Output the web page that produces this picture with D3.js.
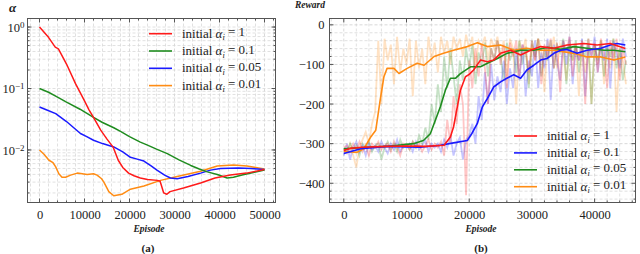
<!DOCTYPE html>
<html><head><meta charset="utf-8">
<script src="https://cdn.jsdelivr.net/npm/d3@7"></script>
<style>
body{margin:0;background:#fff}
svg{display:block}
text{font-family:"Liberation Serif","Times New Roman",serif;fill:#222}
</style>
</head><body>
<svg id="c" width="640" height="254"></svg>
<script>
// ---------- DATA ----------
const seriesNames = ["1", "0.1", "0.05", "0.01"];
// Panel (a): alpha vs episode  [episode, alpha]
const alphaInit1 = [[0,1],[2000,0.68],[3500,0.47],[4200,0.44],[6000,0.25],[8000,0.12],[10000,0.063],[11000,0.045],[12000,0.034],[13600,0.021],[15000,0.015],[16400,0.011],[17500,0.0068],[18500,0.0052],[19800,0.0042],[21000,0.0038],[22400,0.0035],[24000,0.0033],[26200,0.0032],[26800,0.0031],[27600,0.0020],[28300,0.0019],[29000,0.0021],[32000,0.0024],[35800,0.0029],[39000,0.0035],[42400,0.0039],[46000,0.0042],[50000,0.0048]];
const alphaInit01 = [[0,0.1],[2000,0.087],[3900,0.073],[6000,0.06],[9000,0.046],[12000,0.034],[14000,0.028],[16500,0.023],[18000,0.02],[20000,0.0165],[22400,0.0134],[24000,0.012],[26000,0.0103],[28400,0.0087],[31000,0.0069],[33600,0.0056],[35500,0.0049],[37300,0.0044],[39500,0.004],[41700,0.0035],[43100,0.0036],[45000,0.0039],[47500,0.0043],[50000,0.0047]];
const alphaInit005 = [[0,0.05],[1500,0.045],[3600,0.039],[6000,0.029],[9100,0.0185],[10500,0.0165],[12000,0.0144],[14000,0.0127],[16500,0.0112],[18500,0.0093],[20200,0.0076],[21700,0.0071],[23200,0.0066],[24800,0.0055],[26100,0.0047],[27800,0.0039],[29100,0.0035],[30600,0.0034],[33000,0.0037],[35800,0.0042],[38000,0.0047],[40200,0.005],[44200,0.0051],[47000,0.005],[50000,0.0048]];
const alphaInit001 = [[0,0.01],[1000,0.0085],[2100,0.0068],[3000,0.0062],[3600,0.0053],[4300,0.0041],[5000,0.0036],[5800,0.0036],[6900,0.0039],[8400,0.0042],[10600,0.004],[12000,0.0041],[12800,0.0039],[13800,0.0034],[14300,0.003],[15000,0.0024],[15400,0.0021],[16500,0.0018],[18300,0.0019],[20200,0.0023],[23200,0.0026],[26900,0.0032],[30600,0.0037],[35800,0.0045],[39500,0.0055],[43100,0.0057],[46100,0.0055],[50000,0.0049]];
const alphaTicksX = [0,10000,20000,30000,40000,50000];
const alphaTicksY = [1,0.1,0.01];
const alphaExp = ["0","\u22121","\u22122"];

// Panel (b): reward vs episode, smoothed [episode, reward]
const rewSmooth1 = [[0,-317],[1000,-312],[3000,-309],[6800,-307],[10000,-306],[13000,-307],[16000,-304],[17000,-283],[17500,-258],[18100,-207],[18600,-165],[19400,-131],[20000,-125],[20700,-114],[21800,-89],[22900,-93],[23900,-89],[25000,-72],[26600,-64],[28200,-76],[29800,-64],[31400,-55],[33500,-59],[35600,-51],[38300,-47],[40400,-51],[42500,-47],[44900,-60]];
const rewSmooth01 = [[0,-325],[2700,-313],[6900,-307],[12200,-309],[15400,-304],[17500,-298],[19700,-292],[20400,-275],[21300,-249],[22100,-207],[22900,-186],[23900,-157],[25000,-144],[26000,-135],[27100,-126],[28200,-135],[29200,-114],[30300,-102],[31400,-89],[32400,-85],[33500,-72],[34600,-64],[35600,-62],[37200,-72],[38800,-64],[41000,-59],[42500,-51],[43600,-47],[44900,-51]];
const rewSmooth005 = [[0,-313],[4000,-309],[6800,-307],[11100,-300],[12700,-292],[13800,-275],[14600,-241],[15400,-207],[16200,-165],[17000,-135],[17800,-135],[18600,-123],[20200,-106],[21800,-106],[22900,-97],[24500,-85],[26000,-72],[28200,-64],[30300,-64],[32400,-57],[34600,-62],[36700,-55],[38800,-59],[41500,-64],[43100,-64],[44900,-68]];
const rewSmooth001 = [[0,-320],[2100,-322],[3200,-313],[4300,-283],[5100,-266],[5800,-190],[6400,-131],[6900,-110],[8000,-110],[8800,-123],[10100,-110],[11700,-97],[12800,-102],[14400,-80],[15900,-72],[17500,-64],[19700,-55],[21300,-45],[22900,-55],[25000,-51],[27100,-64],[29200,-59],[31400,-64],[33500,-64],[36700,-72],[38800,-81],[41000,-81],[43100,-89],[44900,-81]];
// raw (faded) rewards, one value every 500 episodes from 0 to 45000
const rawStep = 500;
const rewRaw1 = [-310,-305,-320,-300,-315,-295,-320,-305,-330,-300, -310,-295,-315,-305,-300,-320,-295,-310,-330,-300, -305,-315,-295,-310,-300,-320,-305,-290,-315,-300, -310,-295,-330,-240,-300,-180,-250,-150,-200,-430, -90,-160,-60,-130,-50,-110,-200,-60,-90,-40, -100,-50,-160,-45,-80,-40,-130,-50,-70,-120, -40,-90,-35,-150,-50,-80,-35,-110,-45,-170, -40,-70,-30,-130,-50,-90,-40,-200,-35,-80, -45,-120,-35,-70,-160,-40,-90,-35,-140,-60,-100];
const rewRaw01 = [-330,-300,-340,-310,-295,-320,-305,-330,-300,-315, -305,-320,-295,-310,-325,-300,-315,-290,-320,-305, -310,-300,-320,-295,-315,-305,-290,-320,-300,-310, -300,-320,-290,-310,-280,-330,-300,-285,-340,-290, -280,-250,-300,-180,-240,-120,-200,-100,-190,-130, -170,-90,-200,-110,-160,-60,-140,-50,-180,-90, -130,-40,-160,-70,-110,-35,-190,-50,-90,-140, -40,-100,-30,-150,-60,-90,-35,-180,-50,-80, -30,-120,-50,-90,-35,-160,-40,-70,-110,-35,-80];
const rewRaw005 = [-310,-320,-300,-315,-305,-330,-300,-310,-295,-320, -305,-300,-340,-310,-295,-315,-300,-320,-290,-310, -300,-315,-295,-310,-280,-300,-260,-290,-200,-250, -150,-220,-80,-160,-60,-130,-200,-90,-140,-60, -110,-50,-150,-70,-100,-45,-130,-60,-90,-40, -80,-140,-45,-90,-60,-120,-40,-100,-55,-160, -40,-80,-35,-130,-60,-90,-40,-110,-50,-70, -35,-150,-50,-90,-40,-120,-60,-80,-35,-200, -50,-90,-40,-130,-55,-80,-35,-110,-60,-140,-90];
const rewRaw001 = [-318,-325,-300,-330,-360,-310,-290,-270,-300,-250, -220,-40,-200,-35,-90,-50,-150,-30,-120,-60, -100,-35,-180,-40,-110,-60,-150,-30,-90,-45, -120,-30,-70,-40,-100,-30,-60,-35,-80,-25, -60,-30,-110,-40,-55,-30,-90,-35,-60,-30, -80,-40,-130,-35,-60,-200,-40,-70,-35,-150, -50,-90,-35,-60,-170,-40,-80,-30,-110,-50, -70,-140,-40,-90,-50,-180,-40,-120,-60,-200, -50,-100,-40,-150,-60,-110,-35,-220,-60,-90,-150];
const rewTicksX = [0,10000,20000,30000,40000];
const rewTicksY = [0,-100,-200,-300,-400];

const RED="#ff1a1a", GREEN="#1f8c1f", BLUE="#1a1aff", ORANGE="#ff8c14";
const colorsA = {"1":RED,"0.1":GREEN,"0.05":BLUE,"0.01":ORANGE};
const colorsB = {"1":RED,"0.1":BLUE,"0.05":GREEN,"0.01":ORANGE};

// ---------- DRAW ----------
const svg = d3.select("#c");
const gridCol = "#d9d9d9";

function frame(g, x0, x1, y0, y1){
  g.append("rect").attr("x",x0).attr("y",y0).attr("width",x1-x0).attr("height",y1-y0)
    .attr("fill","none").attr("stroke","#555").attr("stroke-width",1);
}
function edgeTicks(g, xs, x, yTop, yBot, len){
  g.append("g").selectAll("line").data(xs).join("line").attr("x1",d=>x(d)).attr("x2",d=>x(d)).attr("y1",yBot).attr("y2",yBot-len).attr("stroke","#555");
  g.append("g").selectAll("line").data(xs).join("line").attr("x1",d=>x(d)).attr("x2",d=>x(d)).attr("y1",yTop).attr("y2",yTop+len).attr("stroke","#555");
}
function edgeTicksY(g, ys, y, xL, xR, len){
  g.append("g").selectAll("line").data(ys).join("line").attr("y1",d=>y(d)).attr("y2",d=>y(d)).attr("x1",xL).attr("x2",xL+len).attr("stroke","#555");
  g.append("g").selectAll("line").data(ys).join("line").attr("y1",d=>y(d)).attr("y2",d=>y(d)).attr("x1",xR).attr("x2",xR-len).attr("stroke","#555");
}
function legend(g, x, y, order, dy, colors){
  order.forEach((k,i)=>{
    const yy = y + i*dy;
    g.append("line").attr("x1",x).attr("x2",x+23).attr("y1",yy).attr("y2",yy).attr("stroke",colors[k]).attr("stroke-width",1.6);
    const t = g.append("text").attr("x",x+33).attr("y",yy+4).attr("font-size",13);
    t.append("tspan").text("initial ");
    t.append("tspan").attr("font-style","italic").text("\u03b1");
    t.append("tspan").attr("font-style","italic").attr("font-size","0.65em").attr("dy","0.3em").text("i");
    t.append("tspan").attr("dy","-0.3em").text(" = " + k);
  });
}

// ===== Panel (a) =====
const A = {x0:27.5, x1:275.5, y0:18.5, y1:202.5};
const xa = d3.scaleLinear().domain([-2667,52444]).range([A.x0, A.x1]);
const ya = d3.scaleLog().domain([0.001397,1.377]).range([A.y1, A.y0]);
const ga = svg.append("g");
svg.append("clipPath").attr("id","clipA").append("rect")
  .attr("x",A.x0).attr("y",A.y0).attr("width",A.x1-A.x0).attr("height",A.y1-A.y0);

const minorXa = d3.range(-2000, 52001, 2000);
const minorYa = [];
[0.001,0.01,0.1,1].forEach(d=>{ for(let k=1;k<10;k++){ const v=d*k; if(v>=0.0014 && v<=1.37) minorYa.push(v);} });

ga.append("g").selectAll("line").data(minorXa).join("line")
  .attr("x1",d=>xa(d)).attr("x2",d=>xa(d)).attr("y1",A.y0).attr("y2",A.y1)
  .attr("stroke",d=>d%10000===0?"#cfcfcf":gridCol).attr("stroke-dasharray","3,2").attr("stroke-width",0.8);
ga.append("g").selectAll("line").data(minorYa).join("line")
  .attr("y1",d=>ya(d)).attr("y2",d=>ya(d)).attr("x1",A.x0).attr("x2",A.x1)
  .attr("stroke",gridCol).attr("stroke-dasharray","3,2").attr("stroke-width",0.8);

const axA_b = d3.axisBottom(xa).tickValues(alphaTicksX).tickFormat(d3.format("d")).tickSize(0).tickPadding(8);
ga.append("g").attr("transform",`translate(0,${A.y1})`).call(axA_b)
  .call(g=>g.select(".domain").remove())
  .selectAll("text").attr("font-size",12.5);
const axA_l = d3.axisLeft(ya).tickValues(alphaTicksY).tickFormat(()=>"").tickSize(0).tickPadding(3);
ga.append("g").attr("transform",`translate(${A.x0},0)`).call(axA_l)
  .call(g=>g.select(".domain").remove())
  .selectAll("text").attr("font-size",12.5).attr("dy","0.35em")
  .each(function(d,i){ const t=d3.select(this); t.text("10"); t.append("tspan").attr("dy","-0.45em").attr("font-size","0.72em").text(alphaExp[i]); });

edgeTicks(ga, minorXa.filter(d=>d>=0 && d%10000!==0), xa, A.y0, A.y1, 2);
edgeTicks(ga, alphaTicksX, xa, A.y0, A.y1, 4);
edgeTicksY(ga, minorYa, ya, A.x0, A.x1, 2);
edgeTicksY(ga, alphaTicksY, ya, A.x0, A.x1, 4);

const lineA = d3.line().x(d=>xa(d[0])).y(d=>ya(d[1]));
const aSeries = [["0.01",alphaInit001],["0.05",alphaInit005],["0.1",alphaInit01],["1",alphaInit1]];
ga.append("g").attr("clip-path","url(#clipA)").selectAll("path").data(aSeries).join("path")
  .attr("d",d=>lineA(d[1])).attr("fill","none").attr("stroke",d=>colorsA[d[0]]).attr("stroke-width",1.5)
  .attr("stroke-linejoin","round");
frame(ga, A.x0, A.x1, A.y0, A.y1);
legend(ga, 149, 33.7, ["1","0.1","0.05","0.01"], 17.3, colorsA);

svg.append("text").attr("x",9).attr("y",12).attr("font-size",13).attr("font-style","italic").attr("font-weight","bold").text("\u03b1");
svg.append("text").attr("x",149).attr("y",232).attr("text-anchor","middle").attr("font-size",9.5).attr("font-style","italic").attr("font-weight","bold").text("Episode");
svg.append("text").attr("x",148).attr("y",252).attr("text-anchor","middle").attr("font-size",11).attr("font-weight","bold").text("(a)");

// ===== Panel (b) =====
const B = {x0:329.5, x1:635.5, y0:18.5, y1:202.5};
const xb = d3.scaleLinear().domain([-2280,46520]).range([B.x0, B.x1]);
const yb = d3.scaleLinear().domain([-448.6,16]).range([B.y1, B.y0]);
const gb = svg.append("g");
svg.append("clipPath").attr("id","clipB").append("rect")
  .attr("x",B.x0).attr("y",B.y0).attr("width",B.x1-B.x0).attr("height",B.y1-B.y0);
const minorXb = d3.range(-2000, 46001, 2000);
const minorYb = d3.range(-440, 11, 20);

gb.append("g").selectAll("line").data(minorXb).join("line")
  .attr("x1",d=>xb(d)).attr("x2",d=>xb(d)).attr("y1",B.y0).attr("y2",B.y1)
  .attr("stroke",d=>d%10000===0?"#cfcfcf":gridCol).attr("stroke-dasharray","3,2").attr("stroke-width",0.8);
gb.append("g").selectAll("line").data(minorYb).join("line")
  .attr("y1",d=>yb(d)).attr("y2",d=>yb(d)).attr("x1",B.x0).attr("x2",B.x1)
  .attr("stroke",d=>d%100===0?"#cfcfcf":gridCol).attr("stroke-dasharray","3,2").attr("stroke-width",0.8);

const axB_b = d3.axisBottom(xb).tickValues(rewTicksX).tickFormat(d3.format("d")).tickSize(0).tickPadding(8);
gb.append("g").attr("transform",`translate(0,${B.y1})`).call(axB_b)
  .call(g=>g.select(".domain").remove())
  .selectAll("text").attr("font-size",12.5);
const axB_l = d3.axisLeft(yb).tickValues(rewTicksY).tickFormat(d3.format("d")).tickSize(0).tickPadding(5);
gb.append("g").attr("transform",`translate(${B.x0},0)`).call(axB_l)
  .call(g=>g.select(".domain").remove())
  .selectAll("text").attr("font-size",12.5);

edgeTicks(gb, minorXb.filter(d=>d>=0 && d%10000!==0), xb, B.y0, B.y1, 2);
edgeTicks(gb, rewTicksX, xb, B.y0, B.y1, 4);
edgeTicksY(gb, minorYb.filter(d=>d%100!==0), yb, B.x0, B.x1, 2);
edgeTicksY(gb, rewTicksY, yb, B.x0, B.x1, 4);

const lineB = d3.line().x(d=>xb(d[0])).y(d=>yb(d[1]));
const lineRaw = d3.line().x((d,i)=>xb(i*rawStep)).y(d=>yb(d));
const plotB = gb.append("g").attr("clip-path","url(#clipB)");
const rawSeries = [["0.01",rewRaw001],["0.05",rewRaw005],["0.1",rewRaw01],["1",rewRaw1]];
plotB.selectAll("path.raw").data(rawSeries).join("path").attr("class","raw")
  .attr("d",d=>lineRaw(d[1])).attr("fill","none").attr("stroke",d=>colorsB[d[0]]).attr("stroke-opacity",0.25).attr("stroke-width",1.8);
const smSeries = [["0.01",rewSmooth001],["0.05",rewSmooth005],["0.1",rewSmooth01],["1",rewSmooth1]];
plotB.selectAll("path.sm").data(smSeries).join("path").attr("class","sm")
  .attr("d",d=>lineB(d[1])).attr("fill","none").attr("stroke",d=>colorsB[d[0]]).attr("stroke-width",1.6).attr("stroke-linejoin","round");
frame(gb, B.x0, B.x1, B.y0, B.y1);
legend(gb, 514, 136, ["1","0.1","0.05","0.01"], 16.9, colorsB);

svg.append("text").attr("x",310).attr("y",8).attr("text-anchor","middle").attr("font-size",9.5).attr("font-style","italic").attr("font-weight","bold").text("Reward");
svg.append("text").attr("x",481).attr("y",232).attr("text-anchor","middle").attr("font-size",9.5).attr("font-style","italic").attr("font-weight","bold").text("Episode");
svg.append("text").attr("x",481).attr("y",252).attr("text-anchor","middle").attr("font-size",11).attr("font-weight","bold").text("(b)");
</script>
</body></html>
